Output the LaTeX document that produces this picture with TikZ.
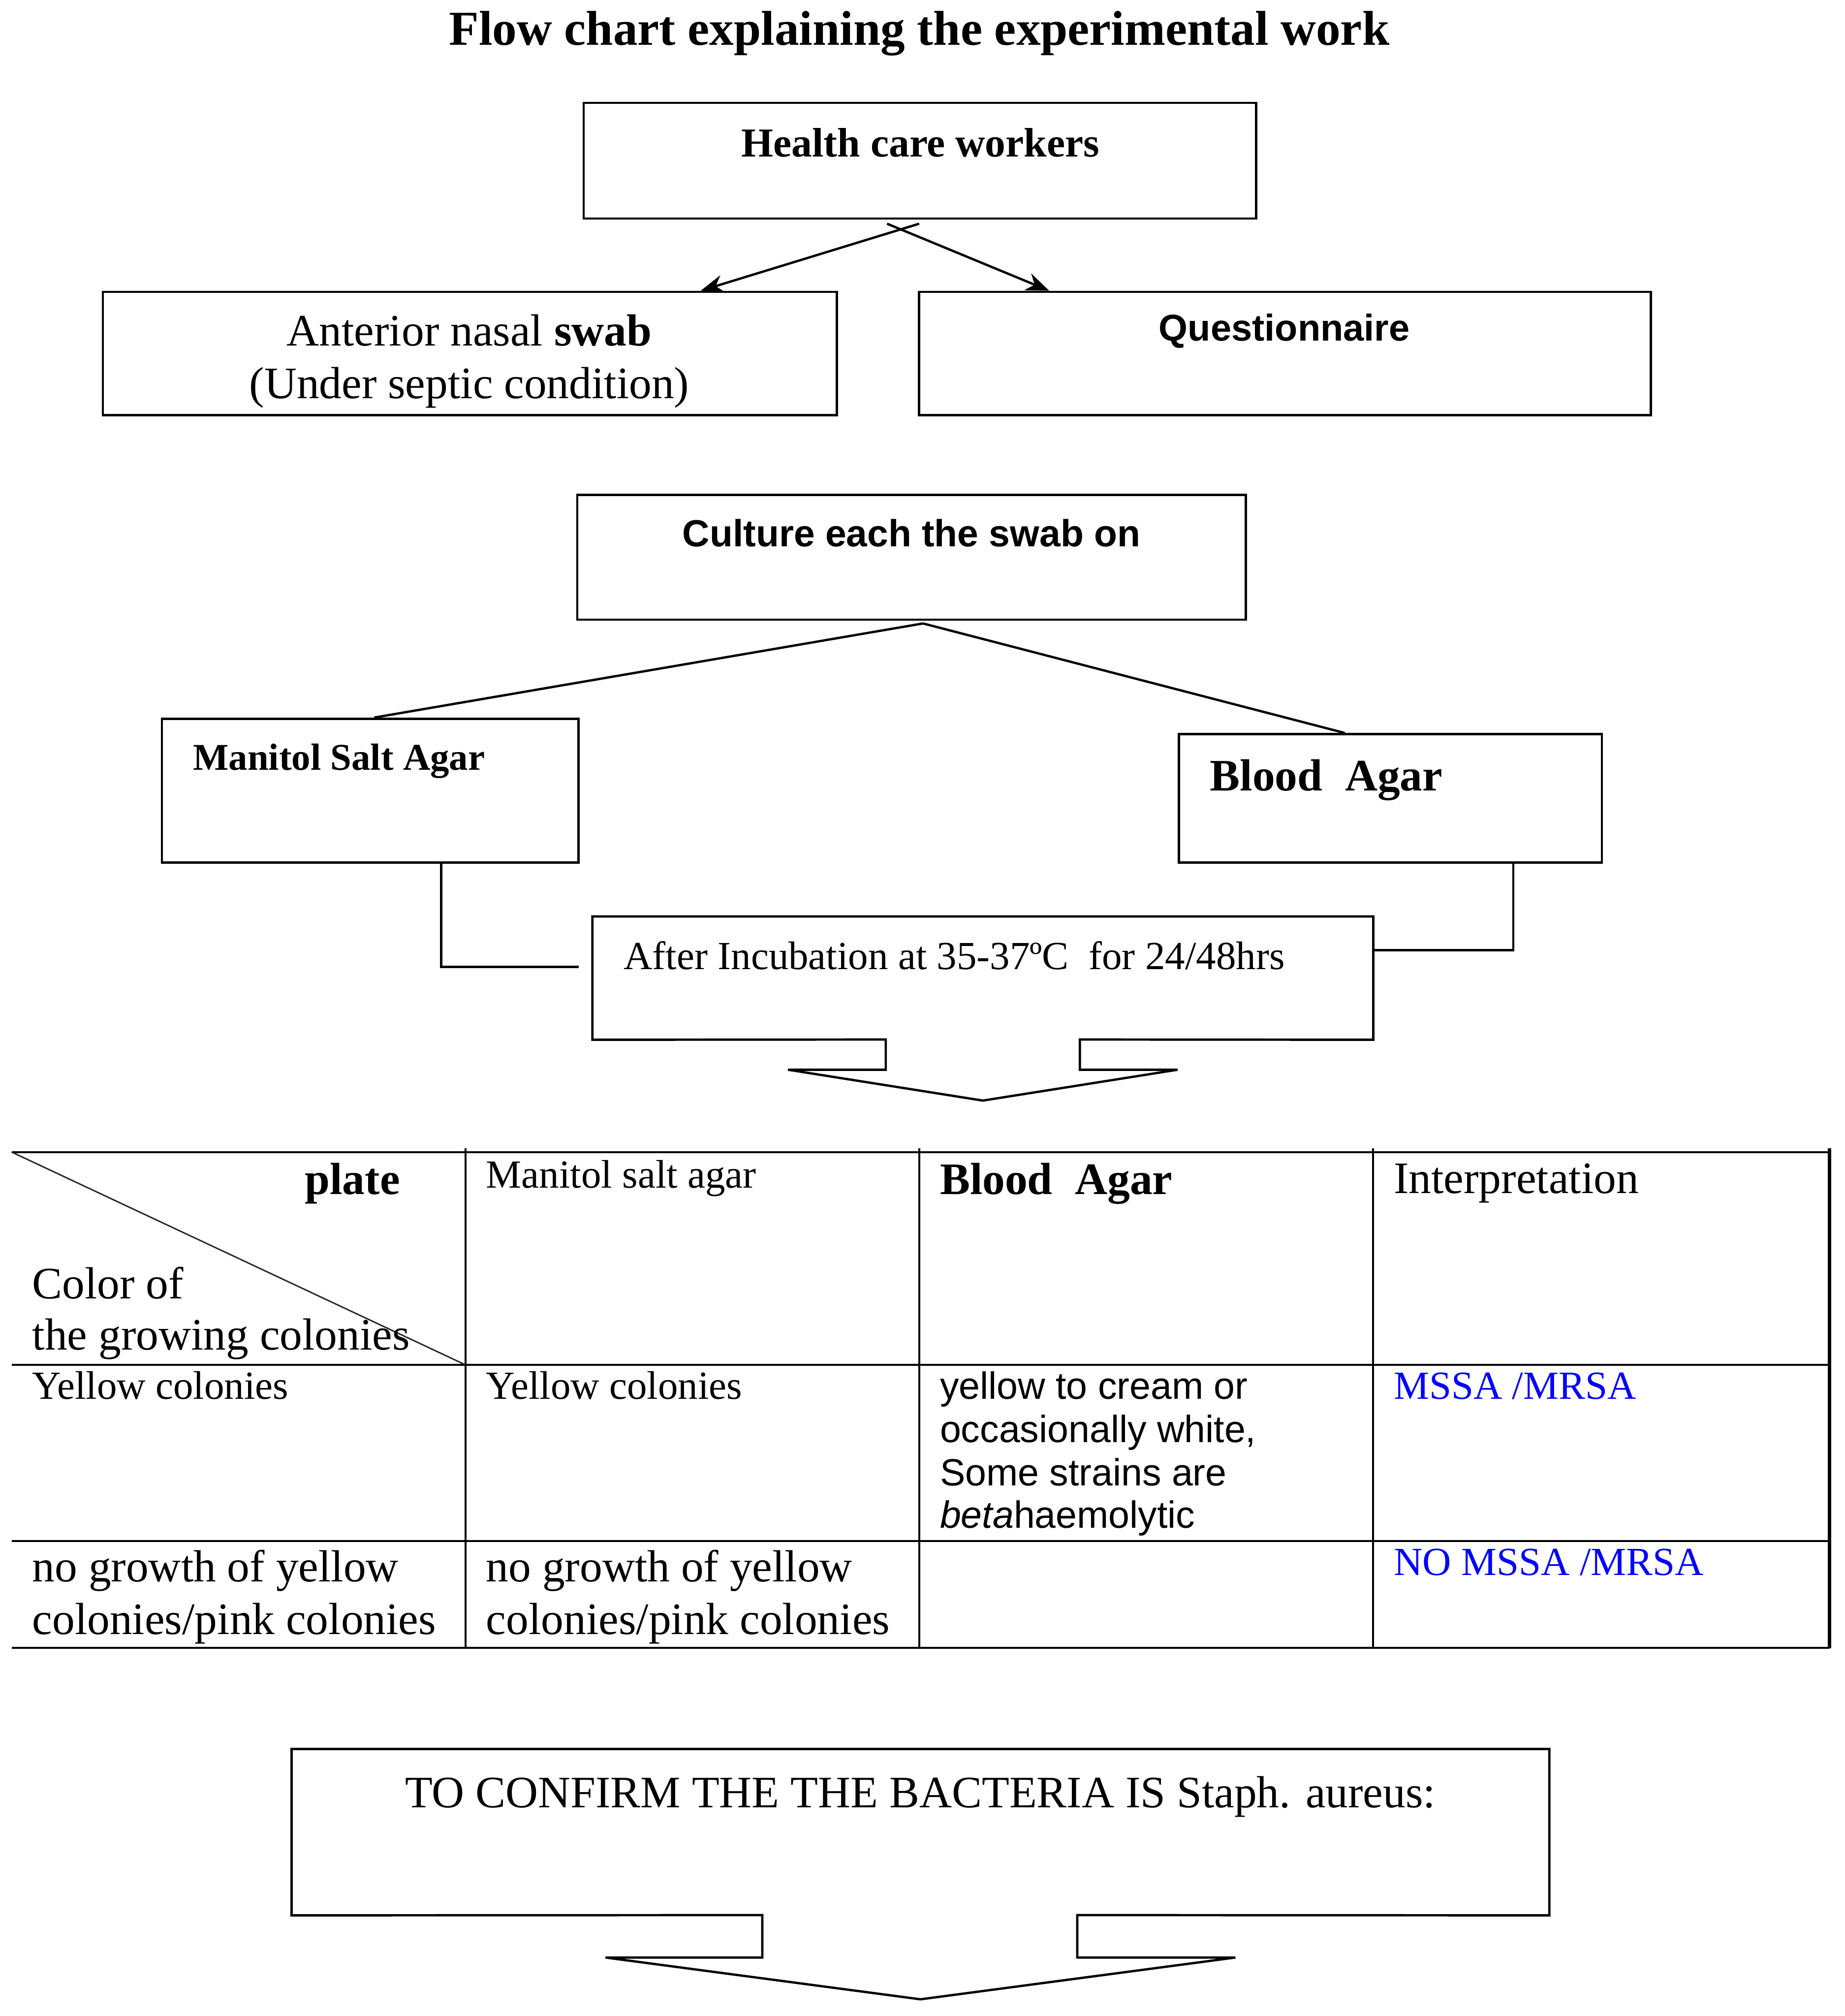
\documentclass[tikz,border=0pt]{standalone}
\usepackage{fontspec}
\setmainfont{Liberation Serif}
\newfontfamily\arial{Liberation Sans}
\usetikzlibrary{arrows.meta}
\newcommand{\fsz}[1]{\fontsize{#1}{#1}\selectfont}
\begin{document}
\begin{tikzpicture}[x=1pt,y=-1pt,
  box/.style={draw,line width=1.8pt,rectangle,inner sep=0pt},
  hole/.style={rectangle,inner sep=0pt},
  txt/.style={inner sep=0pt,anchor=base west},
  ctxt/.style={inner sep=0pt,anchor=base},
  conn/.style={line width=1.8pt},
  tline/.style={line width=1.6pt},
  arr/.style={conn,-{Stealth[length=18pt,width=14pt]}},
  bluetxt/.style={txt,text=blue}]
\useasboundingbox[fill=white] (0,0) rectangle (1435,1568);

% title
\node[ctxt] (title) at (715,35) {\fsz{38}\bfseries Flow chart explaining the experimental work};

% top boxes
\node[box,minimum width=523pt,minimum height=90pt] (hcw) at (715.5,125) {};
\node[ctxt] (hcwt) at (716,122) {\fsz{32}\bfseries Health care workers};
\node[box,minimum width=571pt,minimum height=96pt] (ant) at (365.5,275) {};
\node[ctxt] (antt1) at (365,269) {\fsz{35}Anterior nasal \textbf{swab}};
\node[ctxt] (antt2) at (365,310) {\fsz{35}(Under septic condition)};
\node[box,minimum width=569pt,minimum height=96pt] (que) at (999.5,275) {};
\node[ctxt] (quet) at (999,265) {\fsz{29}\arial\bfseries Questionnaire};

\coordinate (xl) at (715,174);
\coordinate (xr) at (690,174);
\draw[arr] (xl) -- ([xshift=466pt]ant.north west);
\draw[arr] (xr) -- ([xshift=102pt]que.north west);

% culture
\node[box,minimum width=520pt,minimum height=97pt] (cul) at (709,433.5) {};
\node[ctxt] (cult) at (709,425) {\fsz{29.4}\arial\bfseries Culture each the swab on};
\node[box,minimum width=324pt,minimum height=112pt] (man) at (288,615) {};
\node[txt] (mant) at (150,599) {\fsz{29.4}\bfseries Manitol Salt Agar};
\node[box,minimum width=329pt,minimum height=100pt] (blo) at (1081.5,621) {};
\node[txt] (blot) at (941,615) {\fsz{35}\bfseries Blood\ \ Agar};
\draw[conn] ([xshift=9pt,yshift=-2pt]cul.south) -- ([xshift=166pt]man.north west);
\draw[conn] ([xshift=9pt,yshift=-2pt]cul.south) -- ([xshift=130pt]blo.north west);

% incubation box with block arrow
\node[hole,minimum width=607pt,minimum height=95.5pt] (inc) at (764.5,760.75) {};
\draw[conn,line join=miter] (inc.south west) -- (inc.north west) -- (inc.north east) -- (inc.south east)
  -- (840,808.5) -- (840,832) -- (916,832) -- (764.5,856) -- (613,832) -- (689,832) -- (689,808.5) -- cycle;
\node[txt] (inct) at (485,754) {\fsz{31}After Incubation at 35-37ºC\ \ for 24/48hrs};
\coordinate (mend) at (450,752);
\draw[conn] ([xshift=218pt]man.south west) |- (mend);
\draw[conn] ([xshift=261pt]blo.south west) |- (inc.east |- 0,739);

% table
\draw[tline] (9,896) -- (1423,896);
\draw[tline] (9,1061.5) -- (1423,1061.5);
\draw[tline] (9,1198.5) -- (1423,1198.5);
\draw[tline] (9,1281.5) -- (1423,1281.5);
\draw[tline] (362,893) -- (362,1281.5);
\draw[tline] (715,893) -- (715,1281.5);
\draw[tline] (1068,893) -- (1068,1281.5);
\draw[line width=2.6pt] (1423,893) -- (1423,1282);
\draw[line width=1.1pt,black!85] (9,896) -- (362,1061.5);

\node[txt] (plate) at (237,929) {\fsz{35}\bfseries plate};
\node[txt] (col1) at (25,1010) {\fsz{35}Color of};
\node[txt] (col2) at (25,1050) {\fsz{35}the growing colonies};
\node[txt] (h2) at (378,924) {\fsz{31}Manitol salt agar};
\node[txt] (h3) at (731,929) {\fsz{35}\bfseries Blood\ \ Agar};
\node[txt] (h4) at (1084,928) {\fsz{35}Interpretation};

\node[txt] (r1c1) at (25,1088) {\fsz{31}Yellow colonies};
\node[txt] (r1c2) at (378,1088) {\fsz{31}Yellow colonies};
\node[txt] (r1c3a) at (731,1088) {\fsz{29.5}\arial yellow to cream or};
\node[txt] (r1c3b) at (731,1122) {\fsz{29.5}\arial occasionally white,};
\node[txt] (r1c3c) at (731,1155.5) {\fsz{29.5}\arial Some strains are};
\node[txt] (r1c3d) at (731,1188.5) {\fsz{29.5}\arial\textit{beta}haemolytic};
\node[bluetxt] (r1c4) at (1084,1088) {\fsz{31}MSSA /MRSA};

\node[txt] (r2c1a) at (25,1230) {\fsz{35}no growth of yellow};
\node[txt] (r2c1b) at (25,1271) {\fsz{35}colonies/pink colonies};
\node[txt] (r2c2a) at (378,1230) {\fsz{35}no growth of yellow};
\node[txt] (r2c2b) at (378,1271) {\fsz{35}colonies/pink colonies};
\node[bluetxt] (r2c4) at (1084,1225) {\fsz{31}NO MSSA /MRSA};

% confirm box with block arrow
\node[hole,minimum width=978pt,minimum height=129pt] (conf) at (716,1425) {};
\draw[conn,line join=miter] (conf.south west) -- (conf.north west) -- (conf.north east) -- (conf.south east)
  -- (838,1489.5) -- (838,1522.5) -- (961,1522.5) -- (716,1555) -- (471,1522.5) -- (593,1522.5) -- (593,1489.5) -- cycle;
\node[ctxt] (conft) at (716,1406) {\fsz{35}TO CONFIRM THE THE BACTERIA IS Staph. aureus:};
\end{tikzpicture}
\end{document}
